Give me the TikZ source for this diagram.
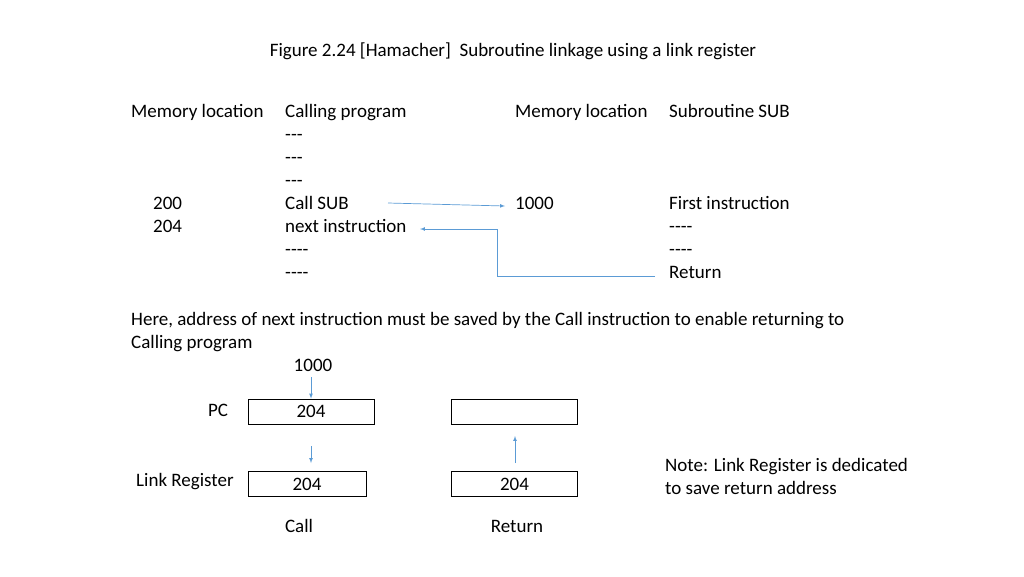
\documentclass[tikz,border=0pt]{standalone}
\usepackage{fontspec}
\setmainfont{Carlito}
\newcommand{\dsh}{{-}{-}{-}}
\newcommand{\dshf}{{-}{-}{-}{-}}
\begin{document}
\begin{tikzpicture}[x=1pt,y=-1pt,
  t/.style={anchor=base west,inner sep=0pt,yshift=-6pt,font=\fontsize{19}{23}\selectfont},
  c/.style={anchor=base,inner sep=0pt,yshift=-6pt,font=\fontsize{19}{23}\selectfont},
  box/.style={draw=black,line width=0.8pt,minimum width=126pt,minimum height=25pt,inner sep=0pt,font=\fontsize{19}{23}\selectfont},
  arr/.style={draw={rgb,255:red,91;green,155;blue,213},line width=0.7pt,-latex}]
\useasboundingbox (0,0) rectangle (1024,576);
\node[c] (title) at (513,50) {Figure 2.24 [Hamacher]\ \ Subroutine linkage using a link register};
\node[t] (m1) at (131,111) {Memory location};
\node[t] (cp) at (285,111) {Calling program};
\node[t] (m2) at (515,111) {Memory location};
\node[t] (ss) at (669,111) {Subroutine SUB};
\node[t] (d1) at (285,134) {\dsh};
\node[t] (d2) at (285,157) {\dsh};
\node[t] (d3) at (285,180) {\dsh};
\node[t] (a200) at (153,203) {200};
\node[t] (call) at (285,203) {Call SUB};
\node[t] (a1000) at (515,203) {1000};
\node[t] (fi) at (669,203) {First instruction};
\node[t] (a204) at (153,226) {204};
\node[t] (next) at (285,226) {next instruction};
\node[t] (s1) at (669,226) {\dshf};
\node[t] (c1) at (285,249) {\dshf};
\node[t] (s2) at (669,249) {\dshf};
\node[t] (c2) at (285,272) {\dshf};
\node[t] (ret) at (669,272) {Return};
\draw[arr] (388,203) -- (505,206);
\coordinate (r1) at (655,276);
\coordinate (r2) at (497,276);
\coordinate (r3) at (497,229);
\coordinate (r4) at (420,229);
\draw[arr] (r1) -- (r2) -- (r3) -- (r4);
\node[t] (p1) at (131,319) {Here, address of next instruction must be saved by the Call instruction to enable returning to};
\node[t] (p2) at (131,342) {Calling program};
\node[c] (k1000) at (313,365) {1000};
\node[c] (pc) at (218,410) {PC};
\node[box] (pcb) at (311,411.5) {204};
\node[box] (pcr) at (514.5,411.5) {};
\node[t] (lr) at (136,480) {Link Register};
\node[box,minimum width=118pt] (lrb) at (307,484) {204};
\node[box] (lrr) at (514.5,484) {204};
\node[t] (n1) at (665,465) {Note: Link Register is dedicated};
\node[t] (n2) at (665,488) {to save return address};
\node[c] (callL) at (299,526) {Call};
\node[c] (retL) at (517,526) {Return};
\draw[arr] (311,377) -- (pcb.north -| 311,0);
\draw[arr] (311,446) -- (311,463);
\draw[arr] (515,463) -- (515,436);
\end{tikzpicture}
\end{document}
